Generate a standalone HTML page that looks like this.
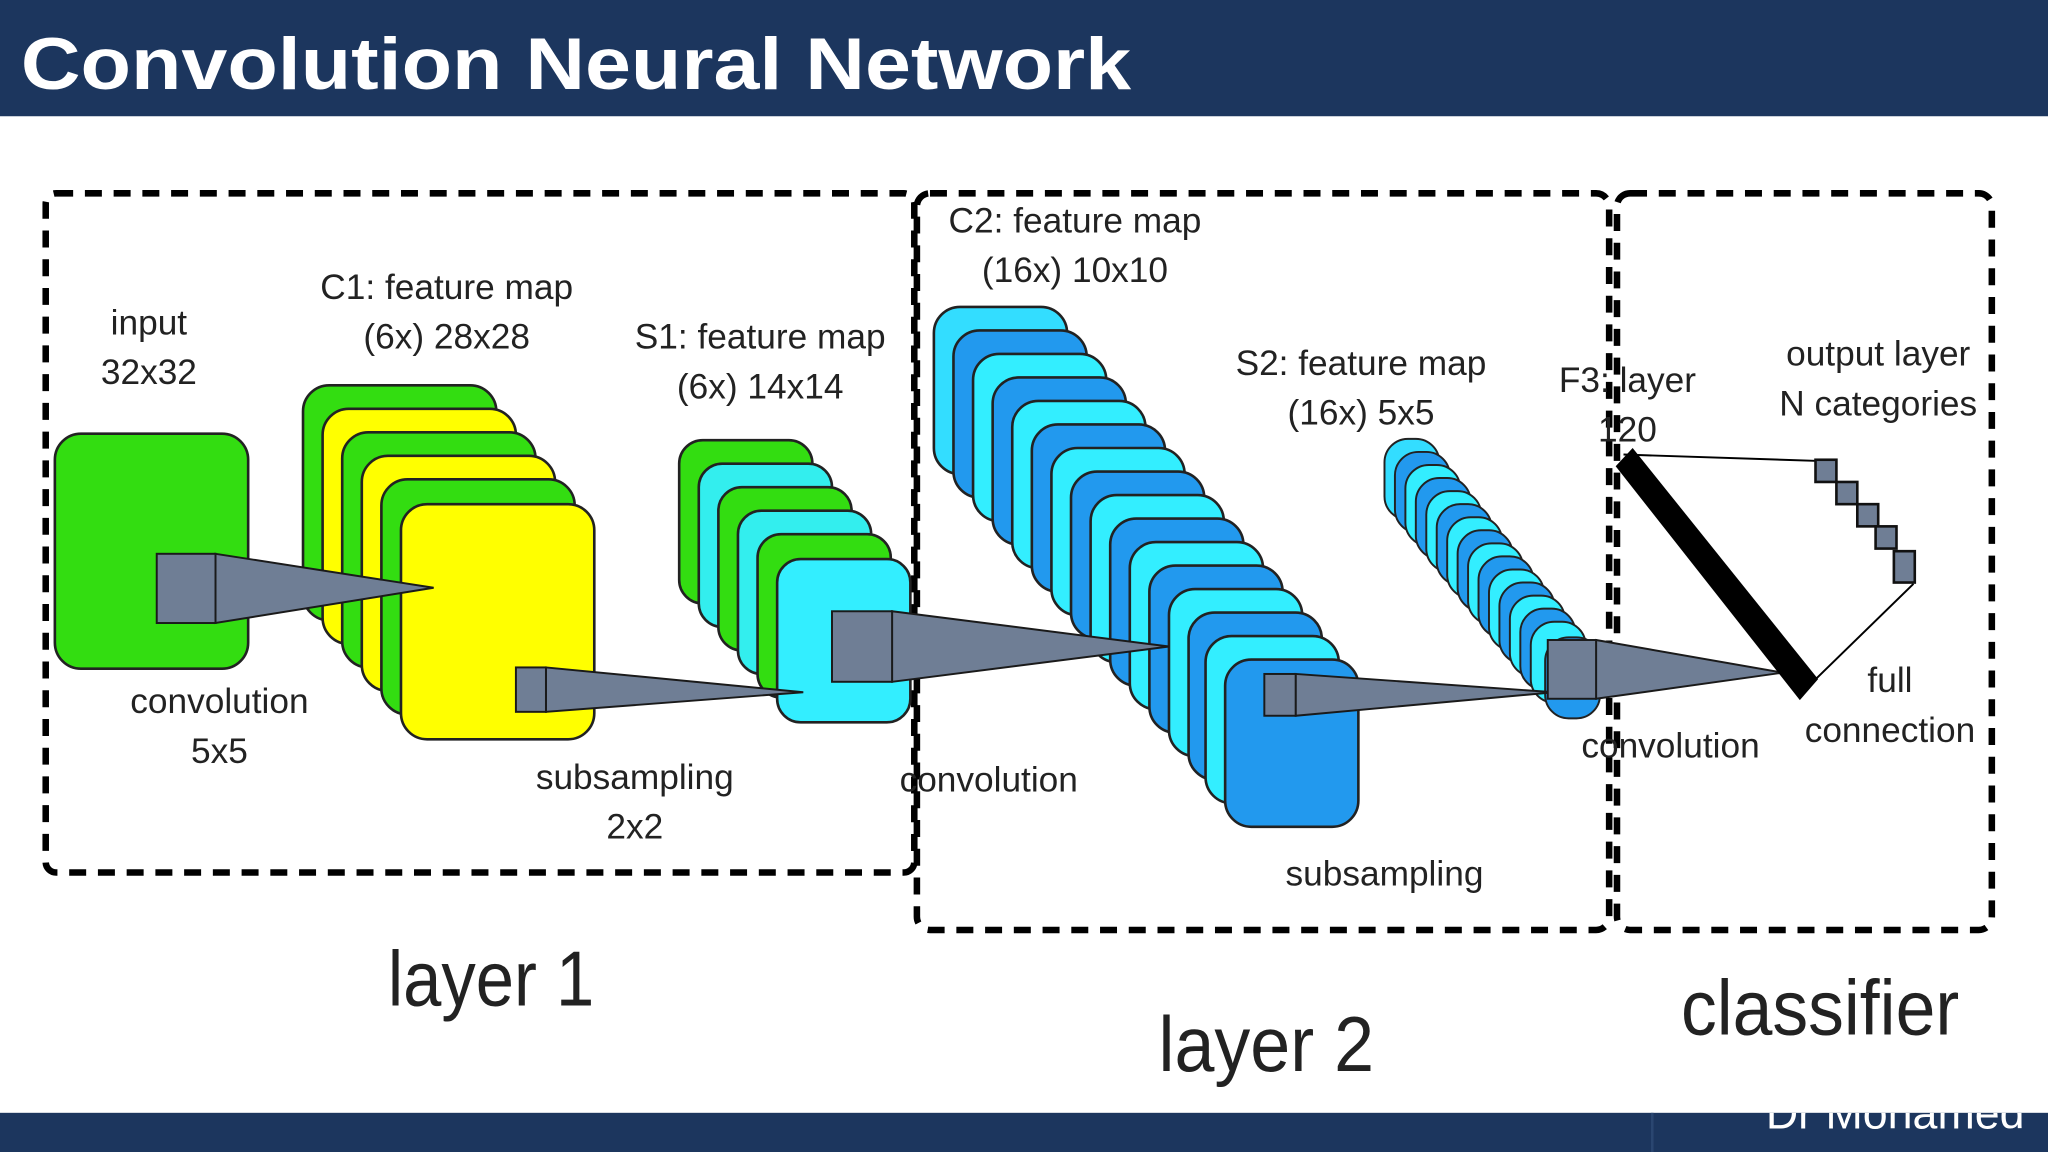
<!DOCTYPE html>
<html><head><meta charset="utf-8"><style>
html,body{margin:0;padding:0;background:#fff;}
svg{display:block}
text{font-family:"Liberation Sans",sans-serif;}
</style></head><body>
<svg width="2048" height="1152" viewBox="0 0 1568 882" xmlns="http://www.w3.org/2000/svg">
<rect x="0" y="0" width="1568" height="882" fill="#fff"/>
<rect x="0" y="0" width="1568" height="89" fill="#1c365e"/>
<text x="16" y="68" fill="#fff" font-size="56" font-weight="bold" textLength="850" lengthAdjust="spacingAndGlyphs">Convolution Neural Network</text>
<rect x="0" y="852" width="1568" height="30" fill="#1c365e"/>
<line x1="1265" y1="852" x2="1265" y2="882" stroke="#2a4670" stroke-width="2"/>
<clipPath id="bc"><rect x="0" y="852" width="1568" height="30"/></clipPath>
<text x="1352" y="864" fill="#fff" font-size="34" clip-path="url(#bc)" textLength="198" lengthAdjust="spacingAndGlyphs">Dr Mohamed</text>

<g fill="none" stroke="#000" stroke-width="5" stroke-dasharray="13 9">
<rect x="35" y="148" width="665" height="520" rx="8"/>
<rect x="702" y="148" width="530" height="564" rx="10"/>
<rect x="1238" y="148" width="287" height="564" rx="10"/>
</g>

<rect x="42" y="332" width="148" height="180" rx="20" fill="#33dd11" stroke="#222" stroke-width="2"/>
<g stroke="#222" stroke-width="2">
<rect x="232" y="295" width="148" height="180" rx="20" fill="#33dd11"/>
<rect x="247" y="313" width="148" height="180" rx="20" fill="#ffff00"/>
<rect x="262" y="331" width="148" height="180" rx="20" fill="#33dd11"/>
<rect x="277" y="349" width="148" height="180" rx="20" fill="#ffff00"/>
<rect x="292" y="367" width="148" height="180" rx="20" fill="#33dd11"/>
<rect x="307" y="386" width="148" height="180" rx="20" fill="#ffff00"/>
</g>
<g stroke="#222" stroke-width="2">
<rect x="520" y="337" width="102" height="125" rx="18" fill="#33dd11"/>
<rect x="535" y="355" width="102" height="125" rx="18" fill="#33eeee"/>
<rect x="550" y="373" width="102" height="125" rx="18" fill="#33dd11"/>
<rect x="565" y="391" width="102" height="125" rx="18" fill="#33eeee"/>
<rect x="580" y="409" width="102" height="125" rx="18" fill="#33dd11"/>
<rect x="595" y="428" width="102" height="125" rx="18" fill="#33eeff"/>
</g>
<g stroke="#222" stroke-width="2">
<rect x="715" y="235" width="102" height="128" rx="20" fill="#33ddff"/>
<rect x="730" y="253" width="102" height="128" rx="20" fill="#2299ee"/>
<rect x="745" y="271" width="102" height="128" rx="20" fill="#33eeff"/>
<rect x="760" y="289" width="102" height="128" rx="20" fill="#2299ee"/>
<rect x="775" y="307" width="102" height="128" rx="20" fill="#33eeff"/>
<rect x="790" y="325" width="102" height="128" rx="20" fill="#2299ee"/>
<rect x="805" y="343" width="102" height="128" rx="20" fill="#33eeff"/>
<rect x="820" y="361" width="102" height="128" rx="20" fill="#2299ee"/>
<rect x="835" y="379" width="102" height="128" rx="20" fill="#33eeff"/>
<rect x="850" y="397" width="102" height="128" rx="20" fill="#2299ee"/>
<rect x="865" y="415" width="102" height="128" rx="20" fill="#33eeff"/>
<rect x="880" y="433" width="102" height="128" rx="20" fill="#2299ee"/>
<rect x="895" y="451" width="102" height="128" rx="20" fill="#33eeff"/>
<rect x="910" y="469" width="102" height="128" rx="20" fill="#2299ee"/>
<rect x="923" y="487" width="102" height="128" rx="20" fill="#33eeff"/>
<rect x="938" y="505" width="102" height="128" rx="20" fill="#2299ee"/>
</g>
<g stroke="#222" stroke-width="1.5">
<rect x="1060" y="336" width="42" height="62" rx="18" fill="#33ddff"/>
<rect x="1068" y="346" width="42" height="62" rx="18" fill="#2299ee"/>
<rect x="1076" y="356" width="42" height="62" rx="18" fill="#33eeff"/>
<rect x="1084" y="366" width="42" height="62" rx="18" fill="#2299ee"/>
<rect x="1092" y="376" width="42" height="62" rx="18" fill="#33eeff"/>
<rect x="1100" y="386" width="42" height="62" rx="18" fill="#2299ee"/>
<rect x="1108" y="396" width="42" height="62" rx="18" fill="#33eeff"/>
<rect x="1116" y="406" width="42" height="62" rx="18" fill="#2299ee"/>
<rect x="1124" y="416" width="42" height="62" rx="18" fill="#33eeff"/>
<rect x="1132" y="426" width="42" height="62" rx="18" fill="#2299ee"/>
<rect x="1140" y="436" width="42" height="62" rx="18" fill="#33eeff"/>
<rect x="1148" y="446" width="42" height="62" rx="18" fill="#2299ee"/>
<rect x="1156" y="456" width="42" height="62" rx="18" fill="#33eeff"/>
<rect x="1164" y="466" width="42" height="62" rx="18" fill="#2299ee"/>
<rect x="1172" y="476" width="42" height="62" rx="18" fill="#33eeff"/>
<rect x="1183" y="488" width="42" height="62" rx="18" fill="#2299ee"/>
</g>
<g fill="#6f7e95" stroke="#1a1a1a" stroke-width="1.5">
<polygon points="165,424 332,450 165,477"/>
<rect x="120" y="424" width="45" height="53"/>
<polygon points="418,511 615,530 418,545"/>
<rect x="395" y="511" width="23" height="34"/>
<polygon points="683,468 895,495 683,522"/>
<rect x="637" y="468" width="46" height="54"/>
<polygon points="992,516 1190,530 992,548"/>
<rect x="968" y="516" width="24" height="32"/>
<polygon points="1222,490 1365,515 1222,535"/>
<rect x="1185" y="490" width="37" height="45"/>
</g>
<line x1="1243" y1="348" x2="1395" y2="353" stroke="#000" stroke-width="1.5"/>
<line x1="1385" y1="525" x2="1465" y2="447" stroke="#000" stroke-width="1.5"/>
<polygon points="1237,357 1250,343 1392,520 1378,536" fill="#000"/>
<g fill="#6f7e95" stroke="#111" stroke-width="2">
<rect x="1390" y="352" width="16" height="17"/>
<rect x="1406" y="369" width="16" height="17"/>
<rect x="1422" y="386" width="16" height="17"/>
<rect x="1436" y="403" width="16" height="17"/>
<rect x="1450" y="422" width="16" height="24"/>
</g>
<g font-size="27" fill="#222" text-anchor="middle">
<text x="114" y="256">input</text>
<text x="114" y="294">32x32</text>
<text x="342" y="229">C1: feature map</text>
<text x="342" y="267">(6x) 28x28</text>
<text x="582" y="267">S1: feature map</text>
<text x="582" y="305">(6x) 14x14</text>
<text x="168" y="546">convolution</text>
<text x="168" y="584">5x5</text>
<text x="486" y="604">subsampling</text>
<text x="486" y="642">2x2</text>
<text x="823" y="178">C2: feature map</text>
<text x="823" y="216">(16x) 10x10</text>
<text x="1042" y="287">S2: feature map</text>
<text x="1042" y="325">(16x) 5x5</text>
<text x="757" y="606">convolution</text>
<text x="1060" y="678">subsampling</text>
<text x="1246" y="300">F3: layer</text>
<text x="1246" y="338">120</text>
<text x="1438" y="280">output layer</text>
<text x="1438" y="318">N categories</text>
<text x="1279" y="580">convolution</text>
<text x="1447" y="530">full</text>
<text x="1447" y="568">connection</text>
</g>
<g font-size="60" fill="#222">
<text x="297" y="770" textLength="158" lengthAdjust="spacingAndGlyphs">layer 1</text>
<text x="887" y="820" textLength="165" lengthAdjust="spacingAndGlyphs">layer 2</text>
<text x="1287" y="792" textLength="213" lengthAdjust="spacingAndGlyphs">classifier</text>
</g>
</svg>
</body></html>
